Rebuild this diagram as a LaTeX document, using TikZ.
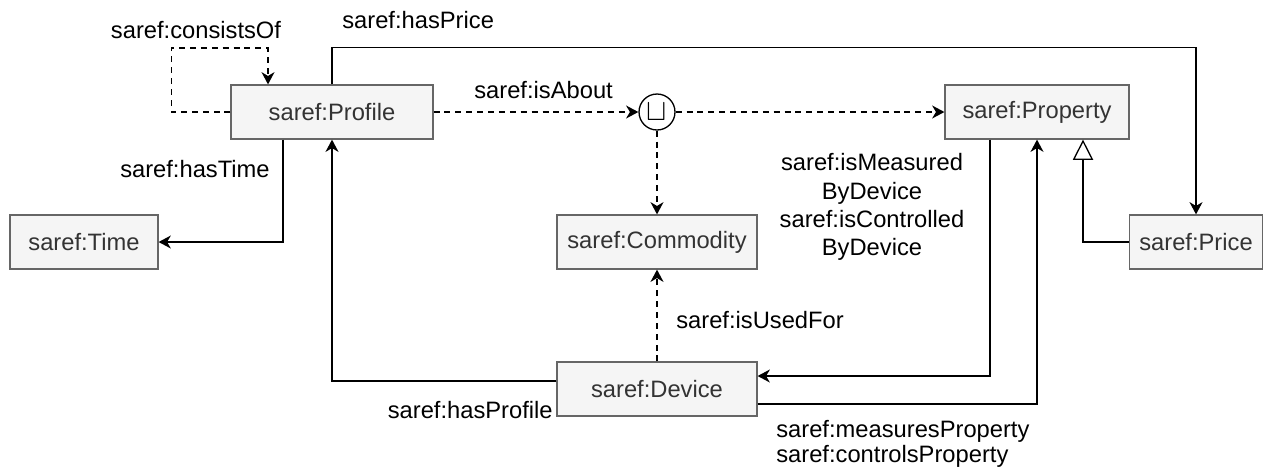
\documentclass[tikz,border=0pt]{standalone}
\usepackage{fontspec}
\setmainfont{Liberation Sans}
\usetikzlibrary{arrows.meta, positioning, calc}
\definecolor{boxgray}{RGB}{245,245,245}
\definecolor{linegray}{RGB}{102,102,102}
\definecolor{textgray}{RGB}{51,51,51}

\begin{document}
\begin{tikzpicture}[x=0.02cm, y=-0.02cm,
  cls/.style={draw=linegray, fill=boxgray, text=textgray, line width=0.7pt, minimum height=1.08cm, inner sep=0pt, font=\fontsize{13.5}{16}\selectfont},
  lbl/.style={font=\fontsize{13.5}{16.2}\selectfont, inner sep=0pt, align=center},
  rel/.style={line width=0.75pt, -{Stealth[length=7pt, width=7.4pt, inset=2.2pt]}},
  dashrel/.style={rel, dash pattern=on 3.4pt off 2.8pt},
  gen/.style={line width=0.75pt, -{Triangle[open, length=11.5pt, width=11.5pt, fill=white]}}]
  \useasboundingbox (0,0) rectangle (1266,468);

  % Classes
  \node[cls, minimum width=4.04cm] (profile) at (332,112) {saref:Profile};
  \node[cls, minimum width=3.68cm] (property) at (1037,112) {saref:Property};
  \node[cls, minimum width=2.96cm] (time) at (84,242) {saref:Time};
  \node[cls, minimum width=4cm] (commodity) at (657,242) {saref:Commodity};
  \node[cls, minimum width=2.66cm] (price) at (1196,242) {saref:Price};
  \node[cls, minimum width=4cm] (device) at (657,389) {saref:Device};
  \node[circle, draw, fill=white, line width=0.75pt, minimum size=0.72cm, inner sep=0pt, font=\fontsize{19}{19}\selectfont] (union) at (657,112) {$\sqcup$};

  % Relations
  \draw[dashrel] (profile.west) -- ++(-59,0) -- ++(0,-64) -| ([xshift=-1.28cm]profile.north);
  \draw[rel] (profile.north) -- ++(0,-37) -| (price.north);
  \draw[dashrel] (profile) -- (union);
  \draw[dashrel] (union) -- (property);
  \draw[dashrel] (union) -- (commodity);
  \draw[rel] ([xshift=-0.98cm]profile.south) |- (time.east);
  \draw[dashrel] (device) -- (commodity);
  \draw[rel] ($(device.west)+(0,-8)$) -| (profile.south);
  \draw[rel] ($(property.south)+(-47,0)$) |- ($(device.east)+(0,-13)$);
  \draw[rel] ($(device.east)+(0,15)$) -| (property.south);
  \draw[gen] (price.west) -| ($(property.south)+(46,0)$);

  % Labels
  \node[lbl, anchor=base] (consistslbl) at (196,38) {saref:consistsOf};
  \node[lbl, anchor=base west] (pricelbl) at (342,28) {saref:hasPrice};
  \node[lbl, anchor=base west] (aboutlbl) at (474,98) {saref:isAbout};
  \node[lbl, anchor=base east] (timelbl) at (270,177) {saref:hasTime};
  \node[lbl, anchor=north] (measuredlbl) at (872,153) {saref:isMeasured\\ByDevice\\saref:isControlled\\ByDevice};
  \node[lbl, anchor=base west] (usedlbl) at (676,328) {saref:isUsedFor};
  \node[lbl, anchor=base east] (profilelbl) at (553,418) {saref:hasProfile};
  \node[lbl, anchor=base west] (measureslbl) at (776,437) {saref:measuresProperty};
  \node[lbl, anchor=base west] (controlslbl) at (776,462) {saref:controlsProperty};
\end{tikzpicture}
\end{document}
